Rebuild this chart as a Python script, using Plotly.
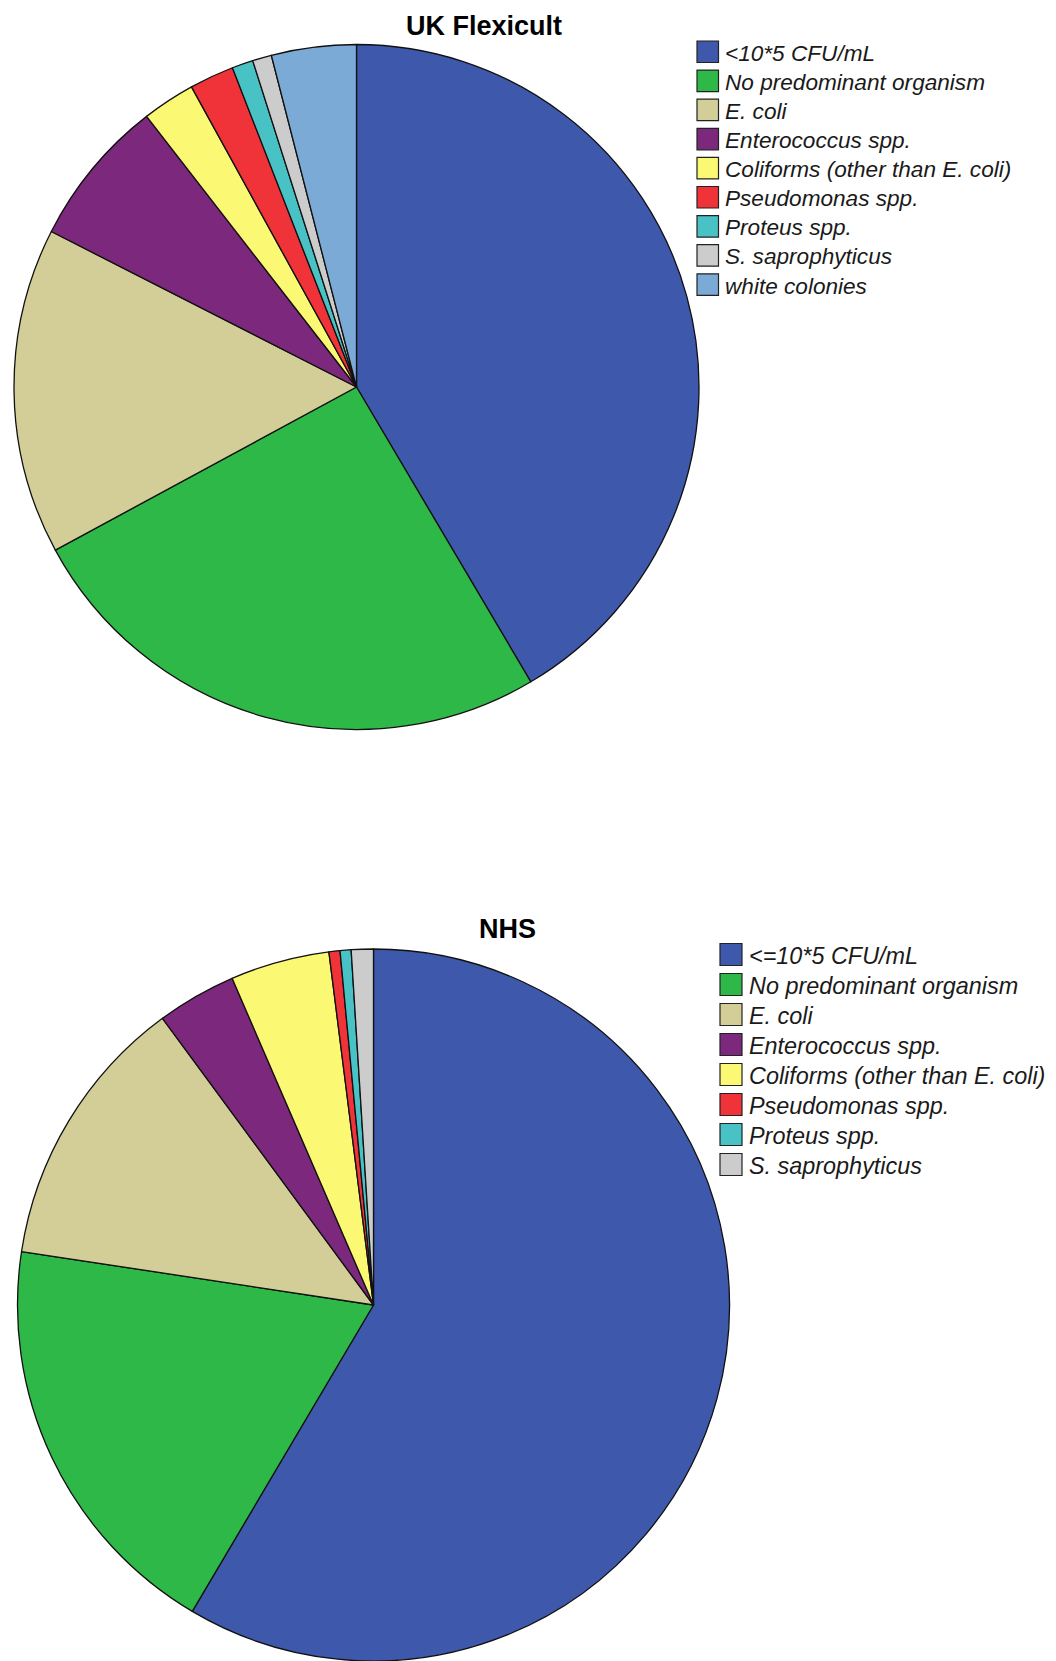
import plotly.graph_objects as go

# ---- data -------------------------------------------------------------
uk_labels = [
    "<10*5 CFU/mL",
    "No predominant organism",
    "E. coli",
    "Enterococcus spp.",
    "Coliforms (other than E. coli)",
    "Pseudomonas spp.",
    "Proteus spp.",
    "S. saprophyticus",
    "white colonies",
]
uk_values = [41.5, 25.6, 15.4, 7.0, 2.5, 2.1, 1.0, 0.9, 4.0]

nhs_labels = [
    "<=10*5 CFU/mL",
    "No predominant organism",
    "E. coli",
    "Enterococcus spp.",
    "Coliforms (other than E. coli)",
    "Pseudomonas spp.",
    "Proteus spp.",
    "S. saprophyticus",
]
nhs_values = [58.5, 18.9, 12.5, 3.6, 4.5, 0.5, 0.5, 1.0]

slice_colors = [
    "#3E58AC",  # blue
    "#2EB848",  # green
    "#D3CE97",  # tan
    "#7C287D",  # purple
    "#FBF873",  # yellow
    "#EF3338",  # red
    "#48C2C5",  # teal
    "#CCCCCC",  # grey
    "#7BAAD7",  # light blue
]

# ---- geometry (pixels) ------------------------------------------------
W, H = 1056, 1661
FONT = "Liberation Sans, Arial, sans-serif"


def px_x(x):
    return x / W


def px_y(y):
    return 1 - y / H


def square_domain(cx, cy, r):
    y0 = max(0.0, px_y(cy + r))
    y1 = min(1.0, px_y(cy - r))
    return dict(x=[px_x(cx - r), px_x(cx + r)], y=[y0, y1])


charts = [
    dict(title="UK Flexicult", labels=uk_labels, values=uk_values,
         cx=356.5, cy=387, r=342.5, title_x=484, title_y=25.5,
         leg_x=697, leg_y=41, box=21.5, step=29.1, text_dx=26, fs=22.6),
    dict(title="NHS", labels=nhs_labels, values=nhs_values,
         cx=373.5, cy=1305, r=356, title_x=507, title_y=929,
         leg_x=720, leg_y=943.5, box=22, step=30.0, text_dx=26.5, fs=23.4),
]

fig = go.Figure()
shapes = []
annotations = []

for ch in charts:
    n = len(ch["values"])
    fig.add_trace(go.Pie(
        labels=ch["labels"],
        values=ch["values"],
        sort=False,
        direction="clockwise",
        rotation=0,
        textinfo="none",
        hoverinfo="label+percent",
        marker=dict(colors=slice_colors[:n],
                    line=dict(color="#111111", width=1.3)),
        domain=square_domain(ch["cx"], ch["cy"], ch["r"]),
        showlegend=False,
    ))

    annotations.append(dict(
        text=ch["title"], x=px_x(ch["title_x"]), y=px_y(ch["title_y"]),
        xref="paper", yref="paper", xanchor="center", yanchor="middle",
        showarrow=False,
        font=dict(family=FONT, size=27, color="#000000", weight="bold"),
    ))

    # legend swatches and labels
    for i, (lab, col) in enumerate(zip(ch["labels"], slice_colors)):
        top = ch["leg_y"] + i * ch["step"]
        shapes.append(dict(
            type="rect", xref="paper", yref="paper",
            x0=px_x(ch["leg_x"]), x1=px_x(ch["leg_x"] + ch["box"]),
            y0=px_y(top + ch["box"]), y1=px_y(top),
            fillcolor=col, line=dict(color="#222222", width=1.2),
        ))
        annotations.append(dict(
            text=lab, x=px_x(ch["leg_x"] + ch["text_dx"]),
            y=px_y(top + ch["box"] / 2 + 1.5),
            xref="paper", yref="paper", xanchor="left", yanchor="middle",
            showarrow=False,
            font=dict(family=FONT, size=ch["fs"], color="#1a1a1a",
                      style="italic"),
        ))

fig.update_layout(
    width=W, height=H,
    margin=dict(l=0, r=0, t=0, b=0),
    paper_bgcolor="white",
    plot_bgcolor="white",
    shapes=shapes,
    annotations=annotations,
)

fig.write_html("out.html")
